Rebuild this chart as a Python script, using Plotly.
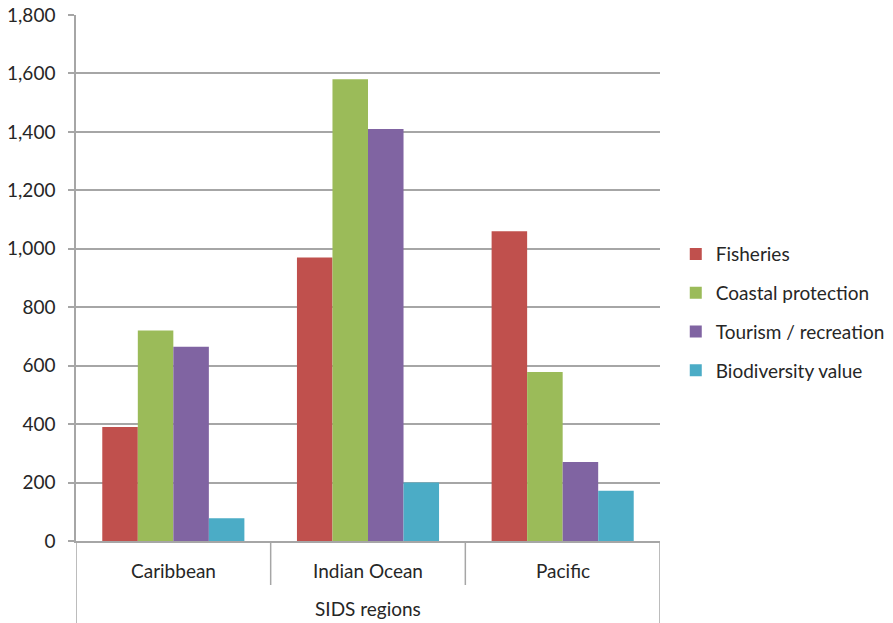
import plotly.graph_objects as go

regions = ["Caribbean", "Indian Ocean", "Pacific"]
axis_title = "SIDS regions"
series_names = ["Fisheries", "Coastal protection", "Tourism / recreation", "Biodiversity value"]
fisheries = [390, 970, 1060]
coastal = [720, 1580, 578]
tourism = [665, 1410, 270]
biodiversity = [78, 200, 172]
colors = ["#C0504D", "#9BBB59", "#8064A2", "#4BACC6"]
y_ticks = [0, 200, 400, 600, 800, 1000, 1200, 1400, 1600, 1800]

FONT = "Lato, Open Sans, sans-serif"
GRID = "#A6A6A6"
TXT = "#262626"
FS = 19

fig = go.Figure()
for i, (name, vals) in enumerate(zip(series_names, [fisheries, coastal, tourism, biodiversity])):
    fig.add_trace(go.Bar(
        name=name, x=list(range(len(regions))), y=vals,
        marker=dict(color=colors[i], line=dict(width=0)),
        legendgroup=name,
    ))

L, R, T, B = 76, 233, 15, 82
W, H = 893, 623
ph = H - T - B

shapes = []
for xv in [0.5, 1.5]:
    shapes.append(dict(type="line", xref="x", yref="paper", x0=xv, x1=xv, y0=0, y1=-44 / ph,
                       line=dict(color=GRID, width=1.5)))
for xv in [-0.5, 2.5]:
    shapes.append(dict(type="line", xref="x", yref="paper", x0=xv, x1=xv, y0=0, y1=-(B + 2) / ph,
                       line=dict(color=GRID, width=1.5)))

annotations = []
for i, r in enumerate(regions):
    annotations.append(dict(x=i, y=0, xref="x", yref="paper", text=r, showarrow=False,
                            yanchor="middle", yshift=-29, font=dict(family=FONT, size=FS, color=TXT)))
annotations.append(dict(x=1, y=0, xref="x", yref="paper", text=axis_title, showarrow=False,
                        yanchor="middle", yshift=-67, font=dict(family=FONT, size=FS, color=TXT)))

fig.update_layout(
    width=W, height=H,
    margin=dict(l=L, r=R, t=T, b=B, autoexpand=False),
    paper_bgcolor="white", plot_bgcolor="white",
    barmode="group", bargap=0.27, bargroupgap=0,
    font=dict(family=FONT, size=FS, color=TXT),
    xaxis=dict(range=[-0.5, 2.5], showticklabels=False, showgrid=False, zeroline=False,
               showline=True, linecolor=GRID, linewidth=1.5, ticks="", automargin=False),
    yaxis=dict(range=[0, 1800], tickvals=y_ticks, tickformat=",", showgrid=True,
               gridcolor=GRID, gridwidth=1.5, zeroline=False, showline=True,
               linecolor=GRID, linewidth=1.5, ticks="outside", ticklen=6, tickcolor=GRID,
               tickwidth=1.5, ticklabelstandoff=9, automargin=False,
               tickfont=dict(family=FONT, size=FS, color=TXT)),
    legend=dict(x=1.027, y=0.435, xanchor="left", yanchor="middle",
                font=dict(family=FONT, size=FS, color=TXT), tracegroupgap=11,
                itemwidth=30, bgcolor="rgba(0,0,0,0)"),
    shapes=shapes, annotations=annotations,
)

fig.write_html("out.html")
